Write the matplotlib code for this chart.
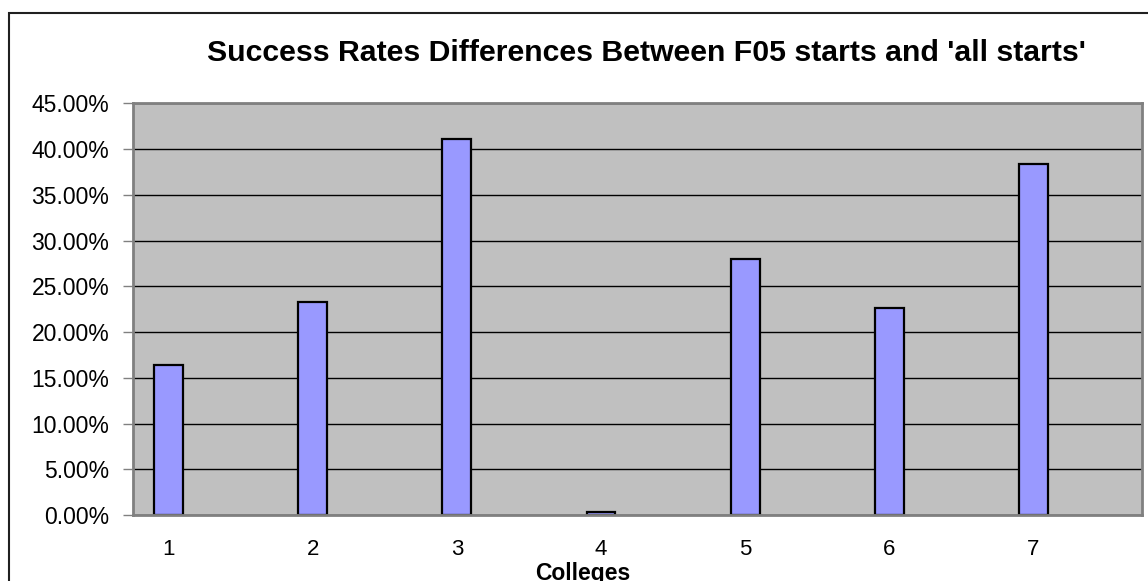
import matplotlib
matplotlib.use("Agg")
import matplotlib.pyplot as plt
from matplotlib.patches import Rectangle
from matplotlib.ticker import FuncFormatter, MultipleLocator

# success rate difference per college (fraction)
colleges = ["1", "2", "3", "4", "5", "6", "7"]
rate_diff = [0.1639, 0.2325, 0.4105, 0.0030, 0.2797, 0.2260, 0.3835]

plt.rcParams["font.family"] = ["Liberation Sans", "DejaVu Sans"]

fig = plt.figure(figsize=(11.48, 5.81), dpi=100)
ax = fig.add_axes([133 / 1148, 66 / 581, 1009 / 1148, 411.7 / 581])
ax.set_facecolor("#C0C0C0")

x = list(range(len(colleges)))
ax.bar(x, rate_diff, width=0.2, color="#9999FF", edgecolor="black",
       linewidth=1.6, zorder=3)

# bars sit left of centre in each category slot
ax.set_xlim(-0.2465, len(colleges) - 0.2465)
ax.set_ylim(0, 0.45)
ax.yaxis.set_major_locator(MultipleLocator(0.05))
ax.yaxis.set_major_formatter(FuncFormatter(lambda v, p: f"{v * 100:.2f}%"))
ax.grid(axis="y", color="black", linewidth=1.0, zorder=1)

ax.set_xticks(x)
ax.set_xticklabels(colleges)
ax.tick_params(axis="x", length=0, pad=17, labelsize=16)
ax.tick_params(axis="y", length=7, width=1, color="#808080", pad=10, labelsize=16.5)

for side in ["top", "right", "bottom", "left"]:
    ax.spines[side].set_color("#808080")
    ax.spines[side].set_linewidth(2)
    ax.spines[side].set_zorder(4)

ax.set_xlabel("Colleges", fontsize=16.5, fontweight="bold", labelpad=3)
ax.xaxis.set_label_coords((583 - 133) / 1009, -0.115)

fig.text(207 / 1148, 1 - 61 / 581,
         "Success Rates Differences Between F05 starts and 'all starts'",
         ha="left", va="baseline", fontsize=21.8, fontweight="bold")

# chart frame
fig.patches.append(Rectangle((9 / 1148, -0.1), 1.2, 1 - 13 / 581 + 0.1,
                             transform=fig.transFigure, fill=False,
                             edgecolor="#202020", linewidth=1.5))

fig.savefig("out.png", dpi=100)
